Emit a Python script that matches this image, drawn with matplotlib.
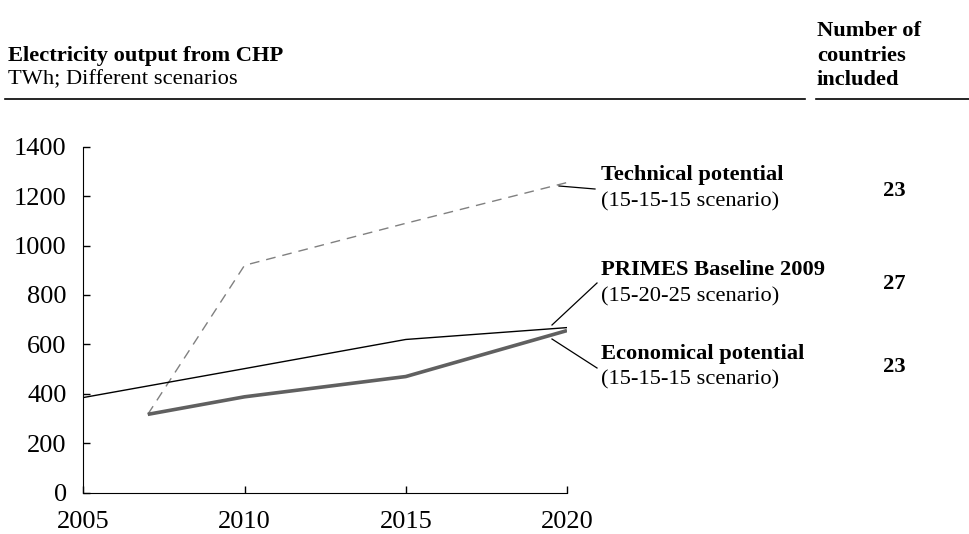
import matplotlib
matplotlib.use("Agg")
import matplotlib.pyplot as plt
from matplotlib.lines import Line2D

plt.rcParams['font.family'] = ['Liberation Serif', 'DejaVu Serif']

# Data
years_primes = [2005, 2010, 2015, 2020]
primes = [385, 502, 620, 668]
years_tech = [2007, 2010, 2015, 2020]
technical = [317, 920, 1090, 1255]
years_econ = [2007, 2010, 2015, 2020]
economical = [317, 388, 470, 656]

yticks = [0, 200, 400, 600, 800, 1000, 1200, 1400]
xticks = [2005, 2010, 2015, 2020]

series_labels = [("Technical potential", "(15-15-15 scenario)", "23"),
                 ("PRIMES Baseline 2009", "(15-20-25 scenario)", "27"),
                 ("Economical potential", "(15-15-15 scenario)", "23")]

W, H = 969, 534
FS = 16.2
TFS = 19
fig = plt.figure(figsize=(W / 100, H / 100), dpi=100)
ax = fig.add_axes([83.3 / W, 1 - 492.7 / H, (567 - 83.3) / W, (492.7 - 146.7) / H])

ax.plot(years_tech, technical, color='#808080', lw=1.0, dashes=(7, 5))
ax.plot(years_primes, primes, color='black', lw=1.0)
ax.plot(years_econ, economical, color='#606060', lw=2.6, solid_capstyle='butt')

ax.set_xlim(2005, 2020)
ax.set_ylim(0, 1400)
ax.set_xticks(xticks)
ax.set_yticks(yticks)
ax.spines['top'].set_visible(False)
ax.spines['right'].set_visible(False)
ax.tick_params(direction='in', length=5, width=1, labelsize=TFS)
ax.tick_params(axis='x', pad=13)
ax.tick_params(axis='y', pad=12)

def px(x, y):
    return x / W, 1 - y / H

# Header texts
fig.text(*px(8, 56), "Electricity output from CHP", fontsize=FS, fontweight='bold', va='center', ha='left')
fig.text(*px(8, 80), "TWh; Different scenarios", fontsize=FS, va='center', ha='left')
fig.text(*px(817, 31), "Number of", fontsize=FS, fontweight='bold', va='center', ha='left')
fig.text(*px(817, 56), "countries", fontsize=FS, fontweight='bold', va='center', ha='left')
fig.text(*px(817, 80), "included", fontsize=FS, fontweight='bold', va='center', ha='left')
fig.add_artist(Line2D([5 / W, 805 / W], [1 - 99 / H] * 2, color='black', lw=1.2))
fig.add_artist(Line2D([816 / W, 969 / W], [1 - 99 / H] * 2, color='black', lw=1.2))

# Series labels
label_y = [(175, 202, 191), (270, 297, 284), (354, 380, 367)]
for (t1, t2, n), (y1, y2, yn) in zip(series_labels, label_y):
    fig.text(*px(601, y1), t1, fontsize=FS, fontweight='bold', va='center', ha='left')
    fig.text(*px(601, y2), t2, fontsize=FS, va='center', ha='left')
    fig.text(*px(883, yn), n, fontsize=FS, fontweight='bold', va='center', ha='left')

# Leader lines
leaders = [((559, 186), (595, 189)), ((552, 325), (597, 283)), ((552, 339), (597, 368))]
for (x0, y0), (x1, y1) in leaders:
    fig.add_artist(Line2D([x0 / W, x1 / W], [1 - y0 / H, 1 - y1 / H], color='black', lw=0.9))

fig.savefig("out.png", dpi=100)
